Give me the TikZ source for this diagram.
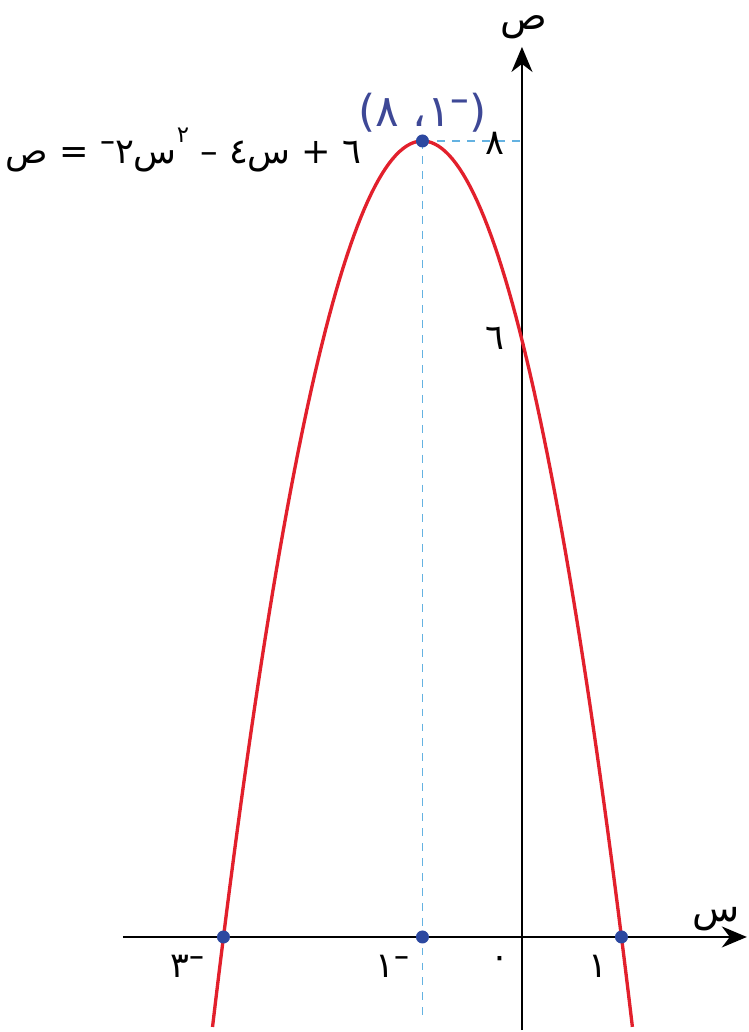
\documentclass[tikz,border=0pt]{standalone}
\usepackage{fontspec}
\usepackage{graphicx}
\usetikzlibrary{arrows.meta}
\newfontfamily\arabicfont[Script=Arabic]{DejaVu Sans}
\newfontfamily\latinfont{DejaVu Sans}
\TeXXeTstate=1
\definecolor{cCurve}{RGB}{226,32,44}
\definecolor{cDot}{RGB}{44,72,160}
\definecolor{cGuide}{RGB}{100,178,225}
\definecolor{cVertex}{RGB}{62,72,150}
\newcommand\hm{\raisebox{0.55ex}{\scalebox{0.85}[1]{–}}}

\begin{document}
\begin{tikzpicture}[x=1.99cm,y=1.99cm,font=\arabicfont\fontsize{20}{22}\selectfont,
  axis/.style={line width=1pt,-{Stealth[length=5mm,width=4.2mm,inset=1.6mm]}},
  guide/.style={cGuide,line width=1.1pt,dash pattern=on 4.5pt off 4pt},
  dot/.style={circle,fill=cDot,inner sep=0pt,minimum size=2.6mm}]
\useasboundingbox (-5.246,-0.955) rectangle (2.281,9.417);
\coordinate (V) at (-1,8); \coordinate (Vb) at (-1,-0.83); \coordinate (Vy) at (0,8);
\coordinate (xs) at (-4.01,0); \coordinate (xe) at (2.26,0);
\coordinate (ys) at (0,-0.935); \coordinate (ye) at (0,8.945);
\draw[guide] (V)--(Vb); \draw[guide] (V)--(Vy);
\draw[axis] (xs)--(xe); \draw[axis] (ys)--(ye);
\draw[cCurve,line width=1.9pt,domain=-3.11:1.11,samples=120] plot (\x,{-2*\x*\x-4*\x+6});
\node[dot] (P3) at (-3,0){}; \node[dot] (P1) at (-1,0){}; \node[dot] (Q1) at (1,0){};
\node[dot] (Vdot) at (V){};
\node[anchor=base] (ylab) at (0.02,9.12){\fontsize{22}{24}\selectfont ص};
\node[anchor=base] (xlab) at (1.95,0.16){\fontsize{22}{24}\selectfont س};
\node (tm3) at (-3.36,-0.30){\hbox{٣}\hm};
\node (tm1) at (-1.30,-0.30){\hbox{١}\hm};
\node (t0) at (-0.22,-0.26){٠};
\node (t1) at (0.76,-0.30){١};
\node (t8) at (-0.27,7.98){٨};
\node (t6) at (-0.27,6.02){٦};
\node[text=cVertex,font=\arabicfont\fontsize{25}{27}\selectfont] (vlab) at (-1.0,8.28){{\latinfont(}\hbox{٨} \hbox{،}\hbox{١}\hm{\latinfont)}};
\node (eq) at (-3.40,7.91){\hbox{ص} = \hm\hbox{٢}\hbox{س}\raisebox{1.1ex}{\fontsize{13}{14}\selectfont\hbox{٢}} – \hbox{٤}\hbox{س} + \hbox{٦}};
\end{tikzpicture}
\end{document}
